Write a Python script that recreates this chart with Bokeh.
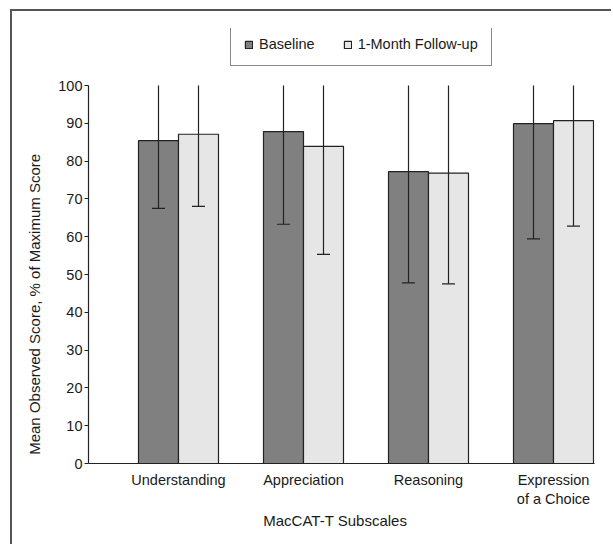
from bokeh.plotting import figure
from bokeh.models import (ColumnDataSource, FixedTicker, Legend, LegendItem)
from bokeh.embed import file_html
from bokeh.resources import INLINE

# ---- data ----
categories = ["Understanding", "Appreciation", "Reasoning", "Expression\nof a Choice"]
baseline_mean = [85.4, 87.8, 77.2, 89.9]
followup_mean = [87.1, 83.9, 76.8, 90.7]
baseline_sd = [17.9, 24.5, 29.4, 30.5]
followup_sd = [19.1, 28.6, 29.3, 27.9]
y_ticks = [0, 10, 20, 30, 40, 50, 60, 70, 80, 90, 100]
series_names = ["Baseline", "1-Month Follow-up"]
x_title = "MacCAT-T Subscales"
y_title = "Mean Observed Score, % of Maximum Score"

FONT = "Liberation Sans"
DARK = "#222222"
BASE_COL = "#808080"
FOLL_COL = "#e6e6e6"

Y_MAX = y_ticks[-1]
bar_w = 0.32
cap_half = 0.052
pos = [i + 1 for i in range(len(categories))]
xb = [p_ - bar_w / 2 for p_ in pos]
xf = [p_ + bar_w / 2 for p_ in pos]


def src_for(xs, means, sds):
    return ColumnDataSource(dict(
        x=xs, top=means,
        lo=[m - s for m, s in zip(means, sds)],
        hi=[min(m + s, Y_MAX) for m, s in zip(means, sds)],   # clipped at axis top
        c0=[x - cap_half for x in xs], c1=[x + cap_half for x in xs]))


src_b = src_for(xb, baseline_mean, baseline_sd)
src_f = src_for(xf, followup_mean, followup_sd)

p = figure(width=601, height=535, x_range=(0.28, 4.328), y_range=(0, 115.08),
           output_backend="svg", toolbar_location=None,
           min_border_left=76, min_border_right=19, min_border_top=17, min_border_bottom=83)
p.margin = (9, 0, 0, 10)
p.styles = {"border-left": "2px solid #555555", "border-top": "2px solid #555555"}
p.outline_line_color = None
p.grid.grid_line_color = None

rb = p.vbar(x="x", top="top", width=bar_w, bottom=0, source=src_b,
            fill_color=BASE_COL, line_color=DARK, line_width=1.2)
rf = p.vbar(x="x", top="top", width=bar_w, bottom=0, source=src_f,
            fill_color=FOLL_COL, line_color=DARK, line_width=1.2)
for s in (src_b, src_f):
    p.segment(x0="x", y0="lo", x1="x", y1="hi", source=s, line_color=DARK, line_width=1.2)
    p.segment(x0="c0", y0="lo", x1="c1", y1="lo", source=s, line_color=DARK, line_width=1.2)

# axes
p.xaxis.ticker = FixedTicker(ticks=pos)
p.xaxis.major_label_overrides = {p_: c for p_, c in zip(pos, categories)}
p.xaxis.major_tick_out = 0
p.xaxis.major_tick_in = 0
p.xaxis.minor_tick_line_color = None
p.xaxis.major_label_standoff = 8
# trailing no-break spaces shift the centred title slightly left, as in the reference
p.xaxis.axis_label = x_title + "\u00a0" * 3
p.xaxis.axis_label_standoff = 2
p.yaxis.ticker = FixedTicker(ticks=y_ticks)
p.yaxis.bounds = (0, Y_MAX)
p.yaxis.major_tick_out = 4
p.yaxis.major_tick_in = 0
p.yaxis.minor_tick_line_color = None
p.yaxis.major_label_standoff = 2
# trailing no-break spaces shift the rotated title's centre downwards, as in the reference
p.yaxis.axis_label = y_title + "\u00a0" * 28
p.yaxis.axis_label_standoff = 12
for ax in (p.xaxis, p.yaxis):
    ax.axis_line_color = DARK
    ax.axis_line_width = 1.2
    ax.major_tick_line_color = DARK
    ax.major_label_text_font = FONT
    ax.major_label_text_font_size = "14.5px"
    ax.major_label_text_color = "#1a1a1a"
    ax.axis_label_text_font = FONT
    ax.axis_label_text_font_size = "15px"
    ax.axis_label_text_font_style = "normal"
    ax.axis_label_text_color = "#1a1a1a"

legend = Legend(items=[LegendItem(label=series_names[0], renderers=[rb]),
                       LegendItem(label=series_names[1], renderers=[rf])],
                orientation="horizontal", location=(142, 397))
legend.glyph_width = 9
legend.glyph_height = 9
legend.label_standoff = 6
legend.spacing = 28
legend.padding = 13
legend.margin = 0
legend.label_text_font = FONT
legend.label_text_font_size = "14.5px"
legend.label_text_color = "#1a1a1a"
legend.border_line_color = "#111111"
legend.border_line_width = 1.5
legend.background_fill_alpha = 1
p.add_layout(legend)

open("out.html", "w").write(file_html(p, INLINE))
